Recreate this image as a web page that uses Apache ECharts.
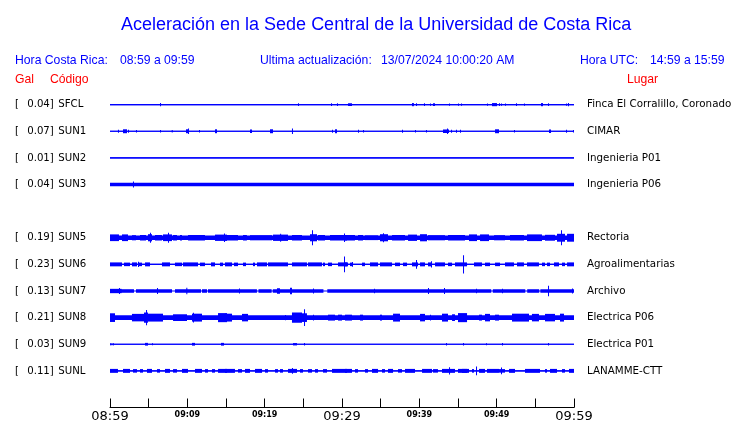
<!DOCTYPE html>
<html><head><meta charset="utf-8">
<script src="https://cdn.jsdelivr.net/npm/echarts@6/dist/echarts.min.js"></script>
<style>html,body{margin:0;padding:0;background:#fff}#c{width:740px;height:423px}</style>
</head><body><div id="c"></div><script>
// ---- data ----
const codes   = ['SFCL','SUN1','SUN2','SUN3','','SUN5','SUN6','SUN7','SUN8','SUN9','SUNL'];
const peakGal = ['0.04','0.07','0.01','0.04','','0.19','0.23','0.13','0.21','0.03','0.11'];
const places  = ['Finca El Corralillo, Coronado','CIMAR','Ingenieria P01','Ingenieria P06','','Rectoria','Agroalimentarias','Archivo','Electrica P06','Electrica P01','LANAMME-CTT'];
// background noise half-amplitude (Gal) per trace
const baseAmp = [0.014,0.014,0.014,0.042,0,0.055,0.014,0.045,0.06,0.014,0.014];
// quiet stretches [startMin, endMin] per trace
const quietSUN7 = [[3.1,3.36],[8.02,8.4],[11.77,11.9],[12.54,12.67],[19.0,19.2],[20.9,21.05],[27.6,28.1],[49.3,49.5],[53.7,53.95],[55.5,55.65]];
// bursts: [startMin, endMin, half-amplitude Gal]
const evSFCL = [[6.47,6.47,0.04],[24.31,24.31,0.035],[28.58,28.58,0.035],[29.35,29.35,0.035],[30.78,31.29,0.035],[39.05,39.3,0.04],[39.57,39.57,0.035],[40.6,40.6,0.035],[41.38,41.38,0.03],[41.77,42.03,0.035],[43.84,43.84,0.03],[45.0,45.0,0.03],[45.39,45.39,0.03],[48.75,48.75,0.03],[49.4,50.04,0.04],[50.3,50.3,0.035],[50.56,50.56,0.03],[51.08,51.08,0.03],[52.5,52.5,0.035],[53.53,53.53,0.03],[55.73,55.99,0.04],[56.64,56.64,0.035],[58.97,58.97,0.03],[59.22,59.35,0.04]];
const evSUN1 = [[1.03,1.03,0.04],[1.68,2.2,0.05],[2.33,2.33,0.04],[3.36,3.36,0.03],[6.47,6.47,0.03],[7.98,7.98,0.03],[9.83,10.09,0.05],[10.09,10.09,0.07],[11.51,11.51,0.03],[13.58,13.84,0.05],[18.1,18.36,0.045],[20.69,21.08,0.05],[23.53,23.53,0.07],[28.71,28.71,0.04],[29.1,29.35,0.05],[32.07,32.07,0.04],[32.72,32.72,0.03],[37.76,37.76,0.04],[39.44,39.44,0.03],[40.86,40.86,0.03],[43.06,43.84,0.045],[43.58,43.58,0.07],[44.1,44.1,0.04],[44.74,44.74,0.04],[45.26,45.26,0.04],[49.79,50.3,0.05],[52.24,52.24,0.03],[56.77,57.03,0.045],[58.97,58.97,0.04],[59.87,59.87,0.03]];
const evSUN2 = [];
const evSUN3 = [[2.97,2.97,0.075]];
const evSUN5 = [[0,1.16,0.085],[1.55,2.33,0.085],[2.84,3.36,0.065],[3.88,4.66,0.07],[4.91,5.43,0.09],[5.17,5.17,0.125],[5.82,6.72,0.07],[6.85,8.02,0.085],[7.5,7.5,0.125],[8.15,8.66,0.07],[9.05,9.31,0.07],[10.09,12.28,0.07],[13.58,15.13,0.08],[14.74,14.74,0.11],
  [14.87,16.55,0.07],[17.2,17.7,0.07],[18.1,20.95,0.065],[21.08,23.02,0.08],[22.0,22.0,0.1],[23.53,24.83,0.07],[25.86,26.77,0.09],[26.12,26.12,0.19],[26.9,27.8,0.07],[28.45,30.65,0.07],[30.26,30.26,0.11],
  [30.39,31.68,0.07],[32.07,32.72,0.07],[32.97,34.66,0.06],[34.91,35.95,0.09],[35.3,35.3,0.115],[36.47,38.15,0.07],[38.54,39.7,0.08],[40.09,40.99,0.09],[41.12,43.32,0.065],[43.71,45.91,0.07],
  [46.42,47.46,0.085],[47.85,49.01,0.085],[49.66,51.08,0.065],[51.72,53.53,0.07],[53.92,55.86,0.085],[56.25,57.54,0.075],[57.8,58.84,0.1],[58.32,58.32,0.19],[59.1,60,0.1]];
const evSUN6 = [[0,1.55,0.05],[1.81,2.59,0.045],[2.84,3.49,0.05],[3.62,4.14,0.045],[3.62,3.62,0.065],[4.53,5.17,0.05],[6.72,7.76,0.05],[8.4,9.31,0.045],[9.44,11.38,0.05],[11.64,12.28,0.045],[13.06,13.58,0.05],[14.22,14.61,0.045],
  [14.87,15.78,0.05],[16.03,16.55,0.045],[17.2,17.59,0.045],[18.49,18.75,0.045],[19.01,20.3,0.05],[20.43,23.02,0.05],[23.53,25.47,0.05],[25.6,27.41,0.05],[27.54,27.8,0.045],[28.19,28.71,0.045],[29.48,30.65,0.05],[30.26,30.26,0.2],[31.29,31.29,0.06],
  [30.39,30.78,0.05],[31.03,31.42,0.045],[32.59,32.97,0.045],[33.62,34.66,0.05],[34.91,36.47,0.05],[36.85,37.5,0.045],[37.89,38.41,0.045],[39.05,39.83,0.05],[39.57,39.57,0.11],[40.09,40.73,0.05],[41.12,41.64,0.05],[41.51,41.51,0.08],[42.03,43.32,0.05],[43.71,44.23,0.045],[44.61,46.17,0.05],[45.65,45.65,0.23],
  [47.07,48.1,0.05],[48.49,49.14,0.045],[49.79,50.43,0.045],[51.08,52.24,0.05],[52.63,53.53,0.05],[53.92,55.47,0.05],[55.86,56.25,0.045],[56.51,56.9,0.045],[57.41,58.06,0.05],[58.45,58.84,0.045],[59.1,60,0.05]];
const evSUN7 = [[0,1.5,0.055],[1.16,1.16,0.075],[6.08,6.08,0.075],[9.87,9.87,0.085],[16.68,16.68,0.065],[21.59,21.98,0.07],[23.28,23.53,0.085],[26.25,26.25,0.065],[34.14,34.14,0.055],[41.12,41.12,0.075],[43.19,43.19,0.075],[47.33,47.33,0.055],[50.69,50.69,0.055],[56.64,56.64,0.13],[59.74,59.74,0.065]];
const evSUN8 = [[0,0.65,0.11],[2.84,4.53,0.095],[4.4,4.91,0.13],[4.66,4.66,0.195],[4.91,6.85,0.1],[8.15,9.96,0.085],[10.6,11.9,0.1],[10.73,10.73,0.125],[13.97,15.13,0.115],
  [14.87,15.78,0.1],[17.07,17.85,0.095],[22.63,22.63,0.065],[23.53,24.83,0.13],[24.83,25.47,0.11],[25.09,25.09,0.21],[26.25,26.25,0.075],[28.19,29.1,0.075],[29.48,30.0,0.075],
  [30.39,31.29,0.075],[32.33,32.72,0.075],[34.91,35.17,0.075],[36.6,37.5,0.1],[40.09,40.73,0.095],[41.38,41.38,0.075],[42.93,43.71,0.1],[44.23,44.61,0.085],[45.0,46.17,0.115],
  [47.72,48.1,0.075],[48.49,49.14,0.095],[49.79,50.3,0.075],[51.98,54.18,0.1],[54.56,55.47,0.095],[56.25,57.54,0.095],[58.19,58.71,0.1]];
const evSUN9 = [[0.05,0.05,0.03],[0.35,0.35,0.03],[4.53,4.91,0.035],[5.43,5.43,0.025],[10.6,10.99,0.035],[14.35,14.74,0.035],[23.66,24.18,0.03],[25.09,25.09,0.03],[43.45,43.45,0.03],[45.65,45.65,0.03],[48.62,48.62,0.025],[50.69,50.69,0.03],[56.64,56.64,0.03]];
const evSUNL = [[0,1.03,0.05],[1.68,2.59,0.05],[2.97,3.49,0.045],[3.88,4.27,0.045],[4.78,5.43,0.05],[6.08,6.47,0.045],[7.11,7.76,0.05],[8.15,8.66,0.045],[9.31,10.09,0.05],[10.99,11.9,0.05],[12.28,12.67,0.045],[13.19,13.58,0.045],[13.97,15.13,0.05],
  [14.87,16.16,0.05],[16.55,17.07,0.045],[17.46,18.1,0.05],[18.75,19.66,0.05],[20.04,20.43,0.045],[21.34,21.72,0.045],[21.98,22.37,0.045],[23.02,24.18,0.05],[23.53,23.53,0.075],[24.57,24.96,0.045],[25.6,26.12,0.045],[26.51,26.9,0.045],[27.54,28.06,0.045],[28.71,30.65,0.05],
  [30.39,31.29,0.05],[31.68,32.07,0.045],[32.97,33.36,0.045],[33.88,34.66,0.05],[35.17,35.56,0.045],[35.95,36.6,0.05],[37.24,37.76,0.045],[38.15,39.44,0.05],[40.35,41.64,0.05],[41.77,42.41,0.045],[42.93,44.61,0.05],[43.84,43.84,0.09],[45.0,46.17,0.05],
  [45.52,46.42,0.05],[46.81,47.07,0.045],[47.33,47.33,0.11],[47.72,48.49,0.05],[48.75,50.3,0.05],[50.56,50.56,0.085],[50.3,51.08,0.045],[51.6,52.37,0.05],[53.66,55.6,0.05],[56.25,56.51,0.045],[56.9,57.8,0.05],[58.45,58.84,0.045],[59.35,60,0.05]];
const traceEvents = [evSFCL,evSUN1,evSUN2,evSUN3,[],evSUN5,evSUN6,evSUN7,evSUN8,evSUN9,evSUNL];
const traceQuiet  = [[],[],[],[],[],[],[],quietSUN7,[],[],[]];
const tickMinutes = [0,10,20,30,40,50,60];
const tickLabels  = ['08:59','09:09','09:19','09:29','09:39','09:49','09:59'];
const majorTicks  = ['08:59','09:29','09:59'];
const TOTAL_MIN = 60;
const GAL_PER_ROW = 0.675;  // vertical display scale: Gal per trace row
const LINE_AMP = 0.014;     // drawn trace line half-width in Gal

// ---- build items [t0, t1, row, amp] ----
const items = [];
codes.forEach((c, r) => {
  if (!c) return;
  items.push([0, TOTAL_MIN, r, LINE_AMP]);
  if (baseAmp[r] > 0) {
    let start = 0;
    traceQuiet[r].forEach(([a, b]) => { items.push([start, a, r, baseAmp[r]]); start = b; });
    items.push([start, TOTAL_MIN, r, baseAmp[r]]);
  }
  traceEvents[r].forEach(([a, b, amp]) => items.push([a, b, r, amp]));
});

const BLUE = '#0000ff';
function renderItem(params, api) {
  const t0 = api.value(0), t1 = api.value(1), r = api.value(2), a = api.value(3) / GAL_PER_ROW;
  const p0 = api.coord([t0, r - a]);
  const p1 = api.coord([t1, r + a]);
  const w = Math.max(1, Math.abs(p1[0] - p0[0]));
  const h = Math.max(1, Math.abs(p1[1] - p0[1]));
  return { type: 'rect', shape: { x: Math.min(p0[0], p1[0]), y: Math.min(p0[1], p1[1]), width: w, height: h }, style: { fill: BLUE } };
}

const FONT_SANS = '"Liberation Sans", Arial, sans-serif';
const FONT_DV = '"DejaVu Sans", sans-serif';
const chart = echarts.init(document.getElementById('c'), null, { renderer: 'canvas' });
function hdr(x, y, text, color) {
  return { type: 'text', left: x, top: y, silent: true, style: { text, fill: color, font: '12.2px ' + FONT_SANS } };
}
chart.setOption({
  animation: false,
  backgroundColor: '#fff',
  title: { text: 'Aceleración en la Sede Central de la Universidad de Costa Rica', left: 116, top: 11,
    textStyle: { color: BLUE, fontSize: 18, fontWeight: 'normal', fontFamily: FONT_SANS } },
  graphic: [
    hdr(15, 55, 'Hora Costa Rica:', BLUE), hdr(120, 55, '08:59 a 09:59', BLUE),
    hdr(260, 55, 'Ultima actualización:', BLUE), hdr(381, 55, '13/07/2024 10:00:20 AM', BLUE),
    hdr(580, 55, 'Hora UTC:', BLUE), hdr(650, 55, '14:59 a 15:59', BLUE),
    hdr(15, 74, 'Gal', '#ff0000'), hdr(50, 74, 'Código', '#ff0000'), hdr(627, 74, 'Lugar', '#ff0000')
  ],
  grid: { left: 110, right: 166, top: 78, bottom: 21, containLabel: false },
  xAxis: {
    type: 'value', min: 0, max: TOTAL_MIN, interval: 5, position: 'bottom', offset: 10,
    axisLine: { show: true, onZero: false, lineStyle: { color: '#000', width: 1 } },
    axisTick: { show: true, inside: true, length: 9, lineStyle: { color: '#000' } },
    splitLine: { show: false },
    axisLabel: {
      margin: 2, showMinLabel: true, showMaxLabel: true, hideOverlap: false,
      formatter: v => {
        const i = tickMinutes.indexOf(Math.round(v));
        if (i < 0) return '';
        const s = tickLabels[i];
        return majorTicks.includes(s) ? '{big|' + s + '}' : '{small|' + s + '}';
      },
      rich: {
        big: { fontSize: 13, fontFamily: FONT_DV, color: '#000', lineHeight: 14 },
        small: { fontSize: 8, fontFamily: FONT_DV, fontWeight: 'bold', color: '#000', lineHeight: 10, padding: [1, 0, 0, 0] }
      }
    }
  },
  yAxis: [
    {
      type: 'value', inverse: true, min: -1, max: 11, interval: 1, position: 'left',
      axisLine: { show: false }, axisTick: { show: false }, splitLine: { show: false },
      axisLabel: {
        align: 'left', margin: 95,
        formatter: v => {
          const r = Math.round(v);
          if (r < 0 || r >= codes.length || !codes[r]) return '';
          return '{a|[}{v|' + peakGal[r] + ']}{c| ' + codes[r] + '}';
        },
        rich: {
          a: { width: 11, fontSize: 10.2, fontFamily: FONT_DV, color: '#000' },
          v: { width: 29, align: 'right', fontSize: 10.2, fontFamily: FONT_DV, color: '#000' },
          c: { fontSize: 10.2, fontFamily: FONT_DV, color: '#000' }
        }
      }
    },
    {
      type: 'value', inverse: true, min: -1, max: 11, interval: 1, position: 'right',
      axisLine: { show: false }, axisTick: { show: false }, splitLine: { show: false },
      axisLabel: {
        align: 'left', margin: 13, fontSize: 10.3, fontFamily: FONT_DV, color: '#000',
        formatter: v => {
          const r = Math.round(v);
          if (r < 0 || r >= places.length) return '';
          return places[r];
        }
      }
    }
  ],
  series: [{
    type: 'custom', coordinateSystem: 'cartesian2d', xAxisIndex: 0, yAxisIndex: 0,
    renderItem, data: items, encode: { x: [0, 1], y: 2 }, silent: true, clip: false
  }]
});
</script></body></html>
